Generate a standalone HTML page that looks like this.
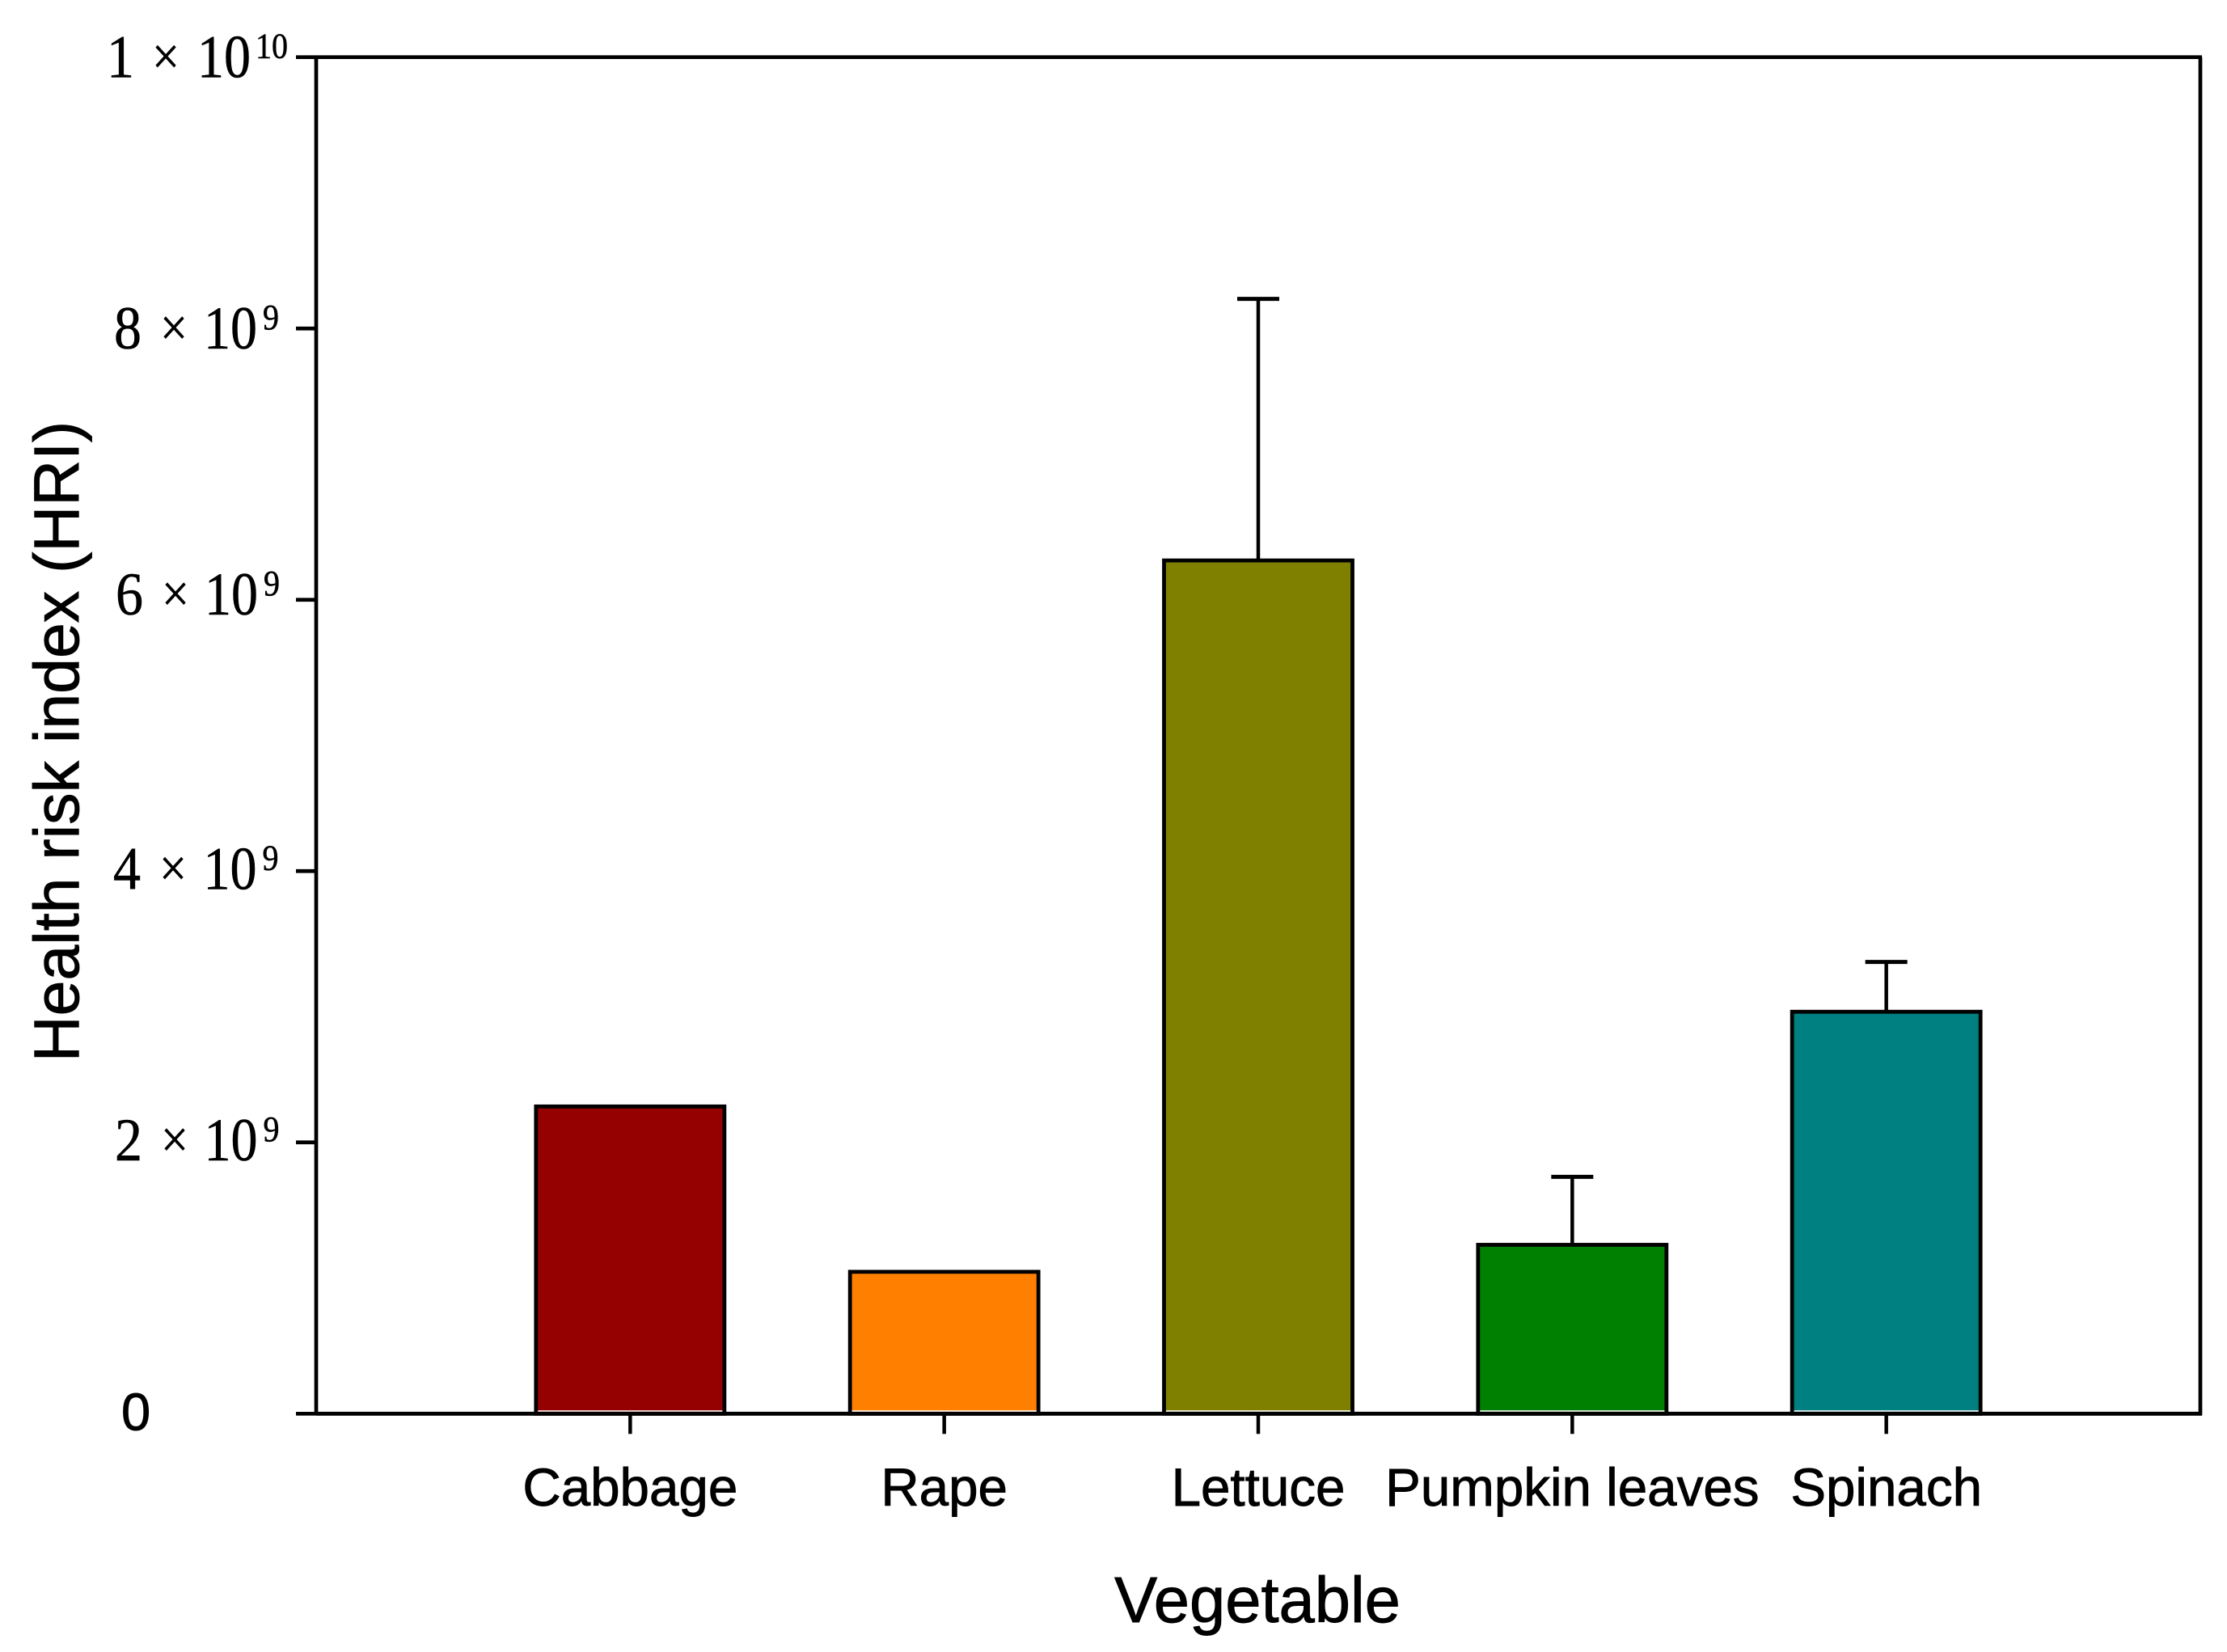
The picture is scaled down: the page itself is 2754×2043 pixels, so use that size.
<!DOCTYPE html>
<html lang="en">
<head>
<meta charset="utf-8">
<title>Health risk index by vegetable</title>
<style>
  html, body { margin: 0; padding: 0; background: #ffffff; }
  svg { display: block; }
  .serif { font-family: "Liberation Serif", serif; fill: #000; stroke: #000; stroke-width: 0.6px; }
  .sans { font-family: "Liberation Sans", sans-serif; fill: #000; stroke: #000; stroke-width: 0.9px; }
</style>
</head>
<body>
<svg id="chart" xmlns="http://www.w3.org/2000/svg" width="2754" height="2043" viewBox="0 0 2754 2043">
  <rect x="0" y="0" width="2754" height="2043" fill="#ffffff"></rect>
  <g id="bars"></g>
  <g id="axes"></g>
  <g id="labels"></g>
  <text class="sans" x="1555" y="2006" font-size="79.5" text-anchor="middle">Vegetable</text>
  <text class="sans" transform="translate(97,917) rotate(-90)" font-size="78.8" text-anchor="middle">Health risk index (HRI)</text>
</svg>
<script>
const categories = ['Cabbage', 'Rape', 'Lettuce', 'Pumpkin leaves', 'Spinach'];
const hriValues = [2.265e9, 1.046e9, 6.29e9, 1.245e9, 2.963e9];
const hriErrors = [0, 0, 1.928e9, 0.501e9, 0.367e9];
const yTickValues = [0, 2e9, 4e9, 6e9, 8e9, 1e10];
const yTickMantissas = ['0', '2', '4', '6', '8', '1'];
const yTickExponents = ['', '9', '9', '9', '9', '10'];
const barColors = ['#950000', '#ff8000', '#808000', '#008000', '#008080'];

const NS = 'http://www.w3.org/2000/svg';
const plot = { left: 391, right: 2721, top: 70.7, bottom: 1748.3 };
const xMax = 6, yMax = 1e10, barSpan = 0.6;
const xScale = function (pos) { return plot.left + (pos / xMax) * (plot.right - plot.left); };
const yScale = function (v) { return plot.bottom - (v / yMax) * (plot.bottom - plot.top); };

function make(tag, attrs, parent, text) {
  const el = document.createElementNS(NS, tag);
  for (const k in attrs) el.setAttribute(k, attrs[k]);
  if (text !== undefined) el.textContent = text;
  parent.appendChild(el);
  return el;
}
const line = function (x1, y1, x2, y2, w, parent) {
  return make('line', { x1: x1, y1: y1, x2: x2, y2: y2, stroke: '#000', 'stroke-width': w }, parent);
};

const barsG = document.getElementById('bars');
const axesG = document.getElementById('axes');
const labelsG = document.getElementById('labels');
const slug = function (s) { return s.toLowerCase().replace(/\s+/g, '-'); };

categories.forEach(function (cat, i) {
  const cx = xScale(i + 1);
  const halfW = (xScale(barSpan) - xScale(0)) / 2;
  const top = yScale(hriValues[i]);

  const bar = make('rect', { x: cx - halfW, y: top, width: halfW * 2, height: plot.bottom - top, fill: barColors[i], stroke: '#000', 'stroke-width': 4.8 }, barsG);
  
  

  const sheen = make('rect', { x: cx - halfW + 2.4, y: plot.bottom - 4.3, width: halfW * 2 - 4.8, height: 2, fill: '#ffffff', opacity: 0.85 }, barsG);
  
  

  if (hriErrors[i] > 0) {
    const errTop = yScale(hriValues[i] + hriErrors[i]);
    const stem = line(cx, top, cx, errTop, 4.5, barsG);
    
    
    const cap = line(cx - 26, errTop, cx + 26, errTop, 5, barsG);
    
    
  }

  const tick = line(cx, plot.bottom, cx, plot.bottom + 25, 4.5, axesG);
  
  

  const label = make('text', { x: cx, y: 1862, 'font-size': 65.5, 'text-anchor': 'middle', class: 'sans' }, labelsG, cat);
  
  
});

const leftAxis = line(plot.left, plot.top, plot.left, plot.bottom, 4.7, axesG);


const rightAxis = line(plot.right, plot.top, plot.right, plot.bottom + 2, 4.7, axesG);


const topAxis = line(plot.left, plot.top, plot.right + 2, plot.top, 4.7, axesG);


const bottomAxis = line(plot.left, plot.bottom, plot.right + 2, plot.bottom, 4.8, axesG);



yTickValues.forEach(function (v, i) {
  const y = yScale(v);
  const tick = line(366, y, plot.left, y, 4.7, axesG);
  
  

  const g = make('g', {}, labelsG);
  
  

  if (!yTickExponents[i]) {
    make('text', { x: 150, y: y + 20, 'font-size': 65, class: 'sans' }, g, yTickMantissas[i]);
    return;
  }
  /* Hand-set typographic nudges per label: [left shift, baseline offset] */
  const nudge = { '1': [0, 25], '8': [2, 25], '6': [4, 18.5], '4': [1, 22], '2': [3, 22] }[yTickMantissas[i]];
  const wide = yTickExponents[i].length > 1;
  const base = y + nudge[1];
  make('text', { x: (wide ? 132 : 139) + nudge[0], y: base, 'font-size': 75, class: 'serif', textLength: 34, lengthAdjust: 'spacingAndGlyphs' }, g, yTickMantissas[i]);
  make('text', { x: (wide ? 188 : 196) + nudge[0], y: base - 4, 'font-size': 66, class: 'serif', textLength: 34, lengthAdjust: 'spacingAndGlyphs' }, g, '×');
  make('text', { x: (wide ? 244 : 251) + (wide ? 0 : nudge[0] / 2), y: base, 'font-size': 75, class: 'serif', textLength: 66, lengthAdjust: 'spacingAndGlyphs' }, g, '10');
  make('text', { x: (wide ? 316 : 324) + (wide ? 0 : nudge[0] / 2), y: base - 24, 'font-size': 44, class: 'serif', textLength: wide ? 40 : 20, lengthAdjust: 'spacingAndGlyphs' }, g, yTickExponents[i]);
});
</script>
</body>
</html>
